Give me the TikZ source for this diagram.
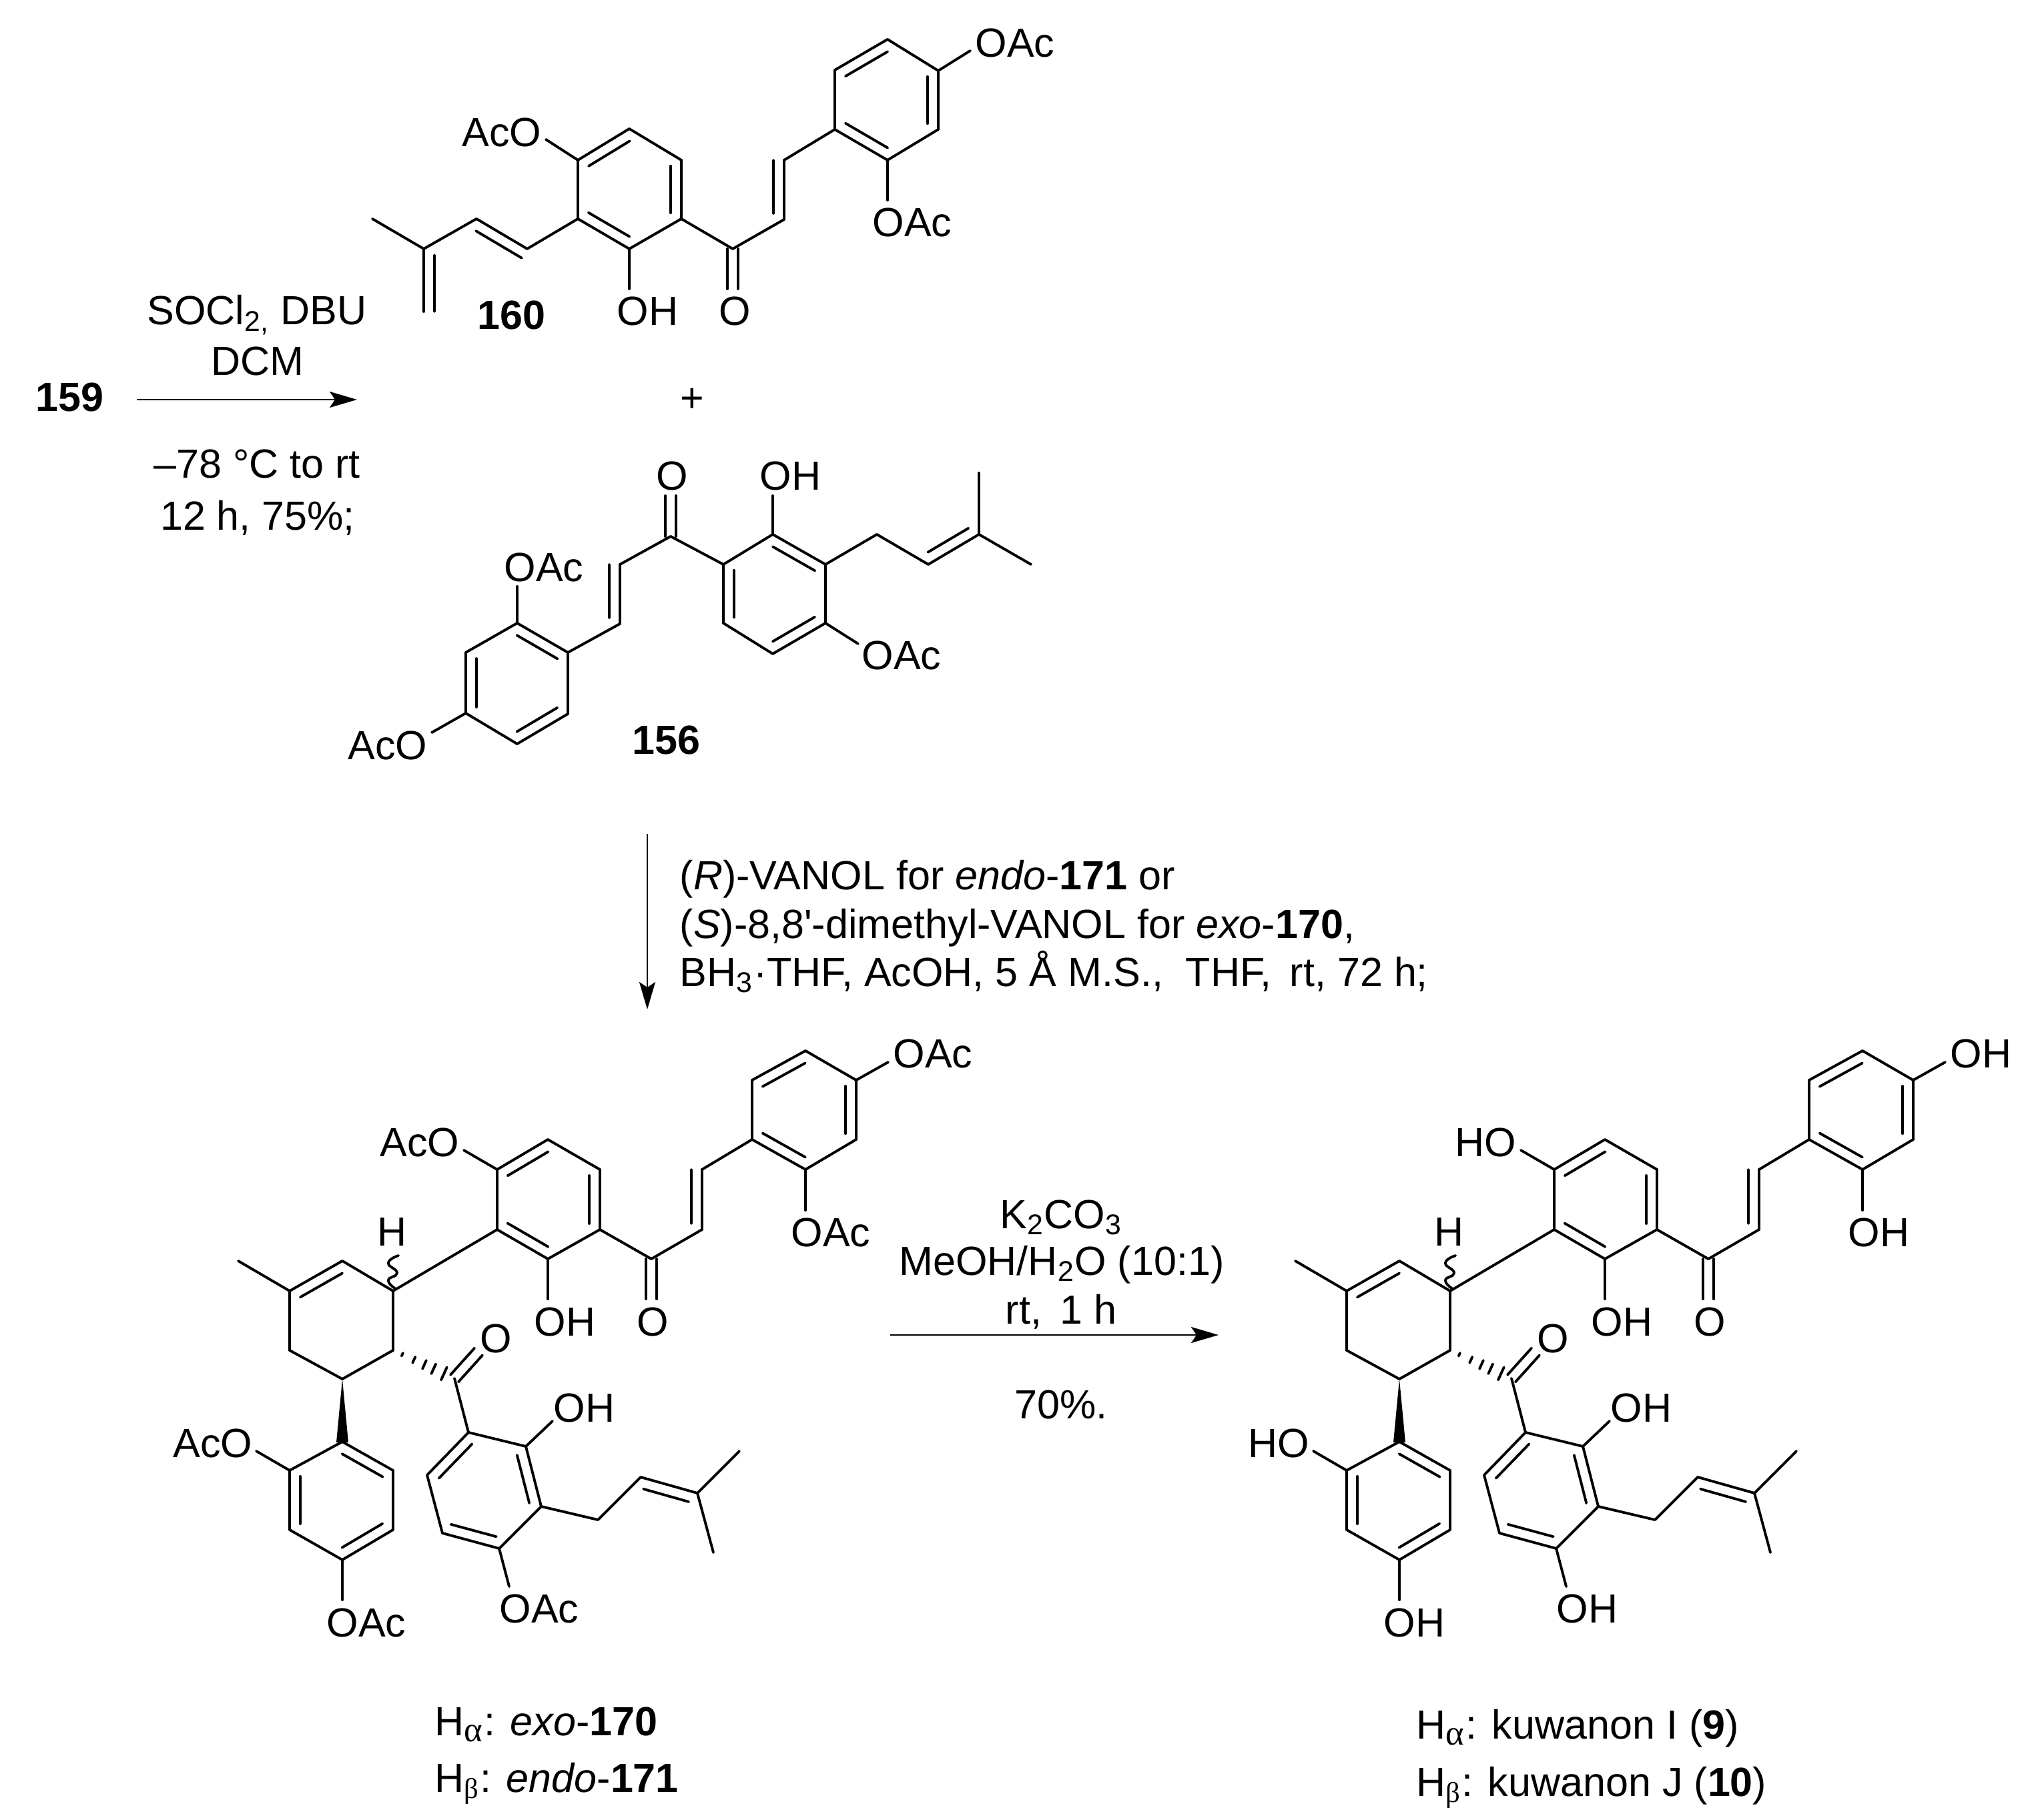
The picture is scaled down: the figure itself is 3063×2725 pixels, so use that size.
\documentclass[tikz,border=0pt]{standalone}
\usepackage{fontspec}
\setmainfont{Liberation Sans}
\newfontfamily\greekfont{Liberation Serif}
\usetikzlibrary{calc}
\usetikzlibrary{arrows.meta}
\tikzstyle{atom}=[coordinate]
\tikzstyle{bond}=[draw,line width=1.1pt,line cap=round]
\tikzstyle{rxnarrow}=[draw,line width=.7pt,-{Stealth[length=.41cm,width=.24cm,inset=.08cm]}]
\tikzstyle{txt}=[inner sep=0pt,font=\fontsize{17.36}{21}\selectfont]
\tikzstyle{labw}=[txt,anchor=base west]
\tikzstyle{labe}=[txt,anchor=base east]
\tikzstyle{labc}=[txt,anchor=base]
% second line of a double bond, on the left going from #1 to #2
\newcommand{\innerbond}[4]{\draw[bond] ($(#1)!#3!(#2)!.16cm!90:(#2)$) -- ($(#2)!#4!(#1)!.16cm!-90:(#1)$);}
% carbonyl: two lines either side of #1 -- #2
\newcommand{\symbond}[2]{\draw[bond] ($(#1)!.08cm!90:(#2)$) -- ($(#2)!.08cm!-90:(#1)$);
    \draw[bond] ($(#1)!.08cm!-90:(#2)$) -- ($(#2)!.08cm!90:(#1)$);}
\newcommand{\alpharm}{\textsubscript{\fontsize{15}{15}\selectfont\greekfont α}}
\newcommand{\betarm}{\textsubscript{\greekfont β}}
\begin{document}
\begin{tikzpicture}[x=.01cm,y=-.01cm]
\useasboundingbox (0,0) rectangle (3063,2725);

    % First reaction: 159 to 160
    \node[labw,font=\fontsize{17.36}{21}\selectfont\bfseries] (n159) at (53,617) {159};
    \coordinate (a1s) at (205,599);
    \coordinate (a1e) at (535,599);
    \draw[rxnarrow] (a1s) -- (a1e);
    \node[labc] (r1) at (385,487) {SOCl\textsubscript{2,} DBU};
    \node[labc] (r2) at (386,563) {DCM};
    \node[labc] (r3) at (385,717) {–78 °C to rt};
    \node[labc] (r4) at (386,795) {12 h, 75\%;};

    % Draw compound 160
    \foreach \pos/\name in {{(943,193)/ta1}, {(1021,240)/ta2}, {(1021,328)/ta3}, {(943,373)/ta4}, {(866,328)/ta5}, {(866,240)/ta6},
        {(1330,59)/tb1}, {(1406,106)/tb2}, {(1406,194)/tb3}, {(1330,240)/tb4}, {(1251,194)/tb5}, {(1251,105)/tb6},
        {(1175,240)/te1}, {(1175,329)/te2}, {(1098,373)/te3}, {(1098,433)/teo},
        {(790,373)/tp1}, {(714,328)/tp2}, {(635,373)/tp3}, {(558,328)/tp4}, {(635,467)/tp5},
        {(1454,76)/toa1}, {(1330,300)/toa2}, {(943,433)/toh}, {(818,209)/toa3}}
        \node[atom] (\name) at \pos {};
    \foreach \src/\dst in {ta1/ta2, ta2/ta3, ta3/ta4, ta4/ta5, ta5/ta6, ta6/ta1, tb1/tb2, tb2/tb3, tb3/tb4, tb4/tb5, tb5/tb6, tb6/tb1,
        tb5/te1, te1/te2, te2/te3, te3/ta3, ta5/tp1, tp1/tp2, tp2/tp3, tp3/tp4, tp3/tp5, ta4/toh, ta6/toa3, tb2/toa1, tb4/toa2}
        \path[bond] (\src) -- (\dst);
    \foreach \src/\dst in {ta1/ta6, ta3/ta2, ta5/ta4, tb1/tb6, tb3/tb2, tb5/tb4}
        {\innerbond{\src}{\dst}{.1}{.1}}
    \innerbond{te2}{te1}{.1}{0}
    \innerbond{tp1}{tp2}{0}{.1}
    \innerbond{tp3}{tp5}{.1}{0}
    \symbond{te3}{teo}
    \node[labw] (tl1) at (1461,86) {OAc};
    \node[labe] (tl2) at (812,220) {AcO};
    \node[labw] (tl3) at (1307,355) {OAc};
    \node[labw] (tl4) at (924,488) {OH};
    \node[labw] (tl5) at (1077,488) {O};
    \node[labw,font=\fontsize{17.36}{21}\selectfont\bfseries] (n160) at (715,494) {160};

    \node[labc] (plus) at (1037,618) {+};

    % Draw compound 156
    \foreach \pos/\name in {{(1158,801)/ua1}, {(1237,846)/ua2}, {(1237,934)/ua3}, {(1158,980)/ua4}, {(1084,934)/ua5}, {(1084,846)/ua6},
        {(775,934)/ub1}, {(851,978)/ub2}, {(851,1070)/ub3}, {(775,1115)/ub4}, {(698,1069)/ub5}, {(698,978)/ub6},
        {(929,935)/ue1}, {(929,846)/ue2}, {(1005,804)/ue3}, {(1005,743)/ueo},
        {(1314,801)/up1}, {(1391,846)/up2}, {(1467,801)/up3}, {(1467,709)/up4}, {(1545,846)/up5},
        {(775,879)/uoa1}, {(647,1098)/uoa2}, {(1286,965)/uoa3}, {(1158,743)/uoh}}
        \node[atom] (\name) at \pos {};
    \foreach \src/\dst in {ua1/ua2, ua2/ua3, ua3/ua4, ua4/ua5, ua5/ua6, ua6/ua1, ub1/ub2, ub2/ub3, ub3/ub4, ub4/ub5, ub5/ub6, ub6/ub1,
        ub2/ue1, ue1/ue2, ue2/ue3, ue3/ua6, ua2/up1, up1/up2, up2/up3, up3/up4, up3/up5, ua1/uoh, ua3/uoa3, ub1/uoa1, ub5/uoa2}
        \path[bond] (\src) -- (\dst);
    \foreach \src/\dst in {ua2/ua1, ua6/ua5, ua4/ua3, ub2/ub1, ub6/ub5, ub4/ub3, up2/up3}
        {\innerbond{\src}{\dst}{.1}{.1}}
    \innerbond{ue1}{ue2}{.1}{0}
    \symbond{ue3}{ueo}
    \node[labw] (ul1) at (983,735) {O};
    \node[labw] (ul2) at (1138,735) {OH};
    \node[labw] (ul3) at (755,872) {OAc};
    \node[labe] (ul4) at (641,1139) {AcO};
    \node[labw] (ul5) at (1291,1004) {OAc};
    \node[labw,font=\fontsize{17.36}{21}\selectfont\bfseries] (n156) at (947,1131) {156};

    % Second reaction
    \coordinate (a2s) at (970,1250);
    \coordinate (a2e) at (970,1513);
    \draw[rxnarrow] (a2s) -- (a2e);
    \node[labw] (v1) at (1018,1333) {(\textit{R})-VANOL for \textit{endo}-\textbf{171} or};
    \node[labw] (v2) at (1018,1406) {(\textit{S})-8,8\textquotesingle-dimethyl-VANOL for \textit{exo}-\textbf{170},};
    \node[labw] (v3) at (1018,1478) {BH\textsubscript{3}·THF, AcOH, 5 Å M.S., \ THF, \,rt, 72 h;};

    % Draw the two products, same skeleton
    \foreach \dx/\pre/\rlab/\llab in {0/p/OAc/AcO, 1584/q/OH/HO} {
    \foreach \pos/\name in {{(1207+\dx,1575)/b1}, {(1283+\dx,1619)/b2}, {(1283+\dx,1708)/b3}, {(1207+\dx,1753)/b4}, {(1127+\dx,1708)/b5}, {(1127+\dx,1619)/b6},
        {(1052+\dx,1753)/e1}, {(1052+\dx,1843)/e2}, {(976+\dx,1887)/e3}, {(976+\dx,1947)/eo},
        {(821+\dx,1708)/a1}, {(899+\dx,1753)/a2}, {(899+\dx,1843)/a3}, {(821+\dx,1887)/a4}, {(745+\dx,1843)/a5}, {(745+\dx,1753)/a6},
        {(589+\dx,1935)/c1}, {(513+\dx,1890)/c2}, {(434+\dx,1935)/c3}, {(434+\dx,2024)/c4}, {(513+\dx,2067)/c5}, {(589+\dx,2024)/c6}, {(357+\dx,1890)/me},
        {(681+\dx,2066)/k1}, {(717+\dx,2026)/ko},
        {(702+\dx,2147)/f1}, {(788+\dx,2168)/f2}, {(811+\dx,2258)/f3}, {(748+\dx,2321)/f4}, {(663+\dx,2298)/f5}, {(640+\dx,2211)/f6},
        {(896+\dx,2278)/g1}, {(960+\dx,2214)/g2}, {(1045+\dx,2238)/g3}, {(1108+\dx,2175)/g4}, {(1069+\dx,2327)/g5},
        {(513+\dx,2161)/d1}, {(589+\dx,2204)/d2}, {(589+\dx,2293)/d3}, {(513+\dx,2338)/d4}, {(434+\dx,2293)/d5}, {(434+\dx,2204)/d6},
        {(1331+\dx,1592)/o1}, {(1207+\dx,1814)/o2}, {(821+\dx,1947)/o3}, {(695+\dx,1724)/o4}, {(828+\dx,2130)/o5}, {(763+\dx,2378)/o6}, {(384+\dx,2175)/o7}, {(513+\dx,2398)/o8}}
        \node[atom] (\pre\name) at \pos {};
    \foreach \src/\dst in {b1/b2, b2/b3, b3/b4, b4/b5, b5/b6, b6/b1, b5/e1, e1/e2, e2/e3, e3/a3,
        a1/a2, a2/a3, a3/a4, a4/a5, a5/a6, a6/a1, a5/c1, c1/c2, c2/c3, c3/c4, c4/c5, c5/c6, c6/c1, c3/me,
        k1/f1, f1/f2, f2/f3, f3/f4, f4/f5, f5/f6, f6/f1, f3/g1, g1/g2, g2/g3, g3/g4, g3/g5,
        d1/d2, d2/d3, d3/d4, d4/d5, d5/d6, d6/d1, b2/o1, b4/o2, a4/o3, a6/o4, f2/o5, f4/o6, d6/o7, d4/o8}
        \path[bond] (\pre\src) -- (\pre\dst);
    \foreach \src/\dst in {b1/b6, b3/b2, b5/b4, a1/a6, a3/a2, a5/a4, c2/c3, f1/f6, f3/f2, f5/f4, g3/g2, d2/d1, d4/d3, d6/d5}
        {\innerbond{\pre\src}{\pre\dst}{.1}{.1}}
    \innerbond{\pre e2}{\pre e1}{.1}{0}
    \symbond{\pre e3}{\pre eo}
    \symbond{\pre k1}{\pre ko}
    % wedge, hashes and wavy bond on the cyclohexene
    \fill (\pre c5) -- ($(\pre d1)+(-9,1)$) -- ($(\pre d1)+(9,1)$) -- cycle;
    \foreach \frc/\hw in {.15/.025, .34/.05, .51/.07, .66/.08, .83/.105}
        \path[bond] ($(\pre c6)!\frc!(\pre k1)!\hw cm!90:(\pre k1)$) -- ($(\pre c6)!\frc!(\pre k1)!\hw cm!-90:(\pre k1)$);
    \draw[bond] plot[smooth,tension=.9] coordinates {(593+\dx,1932) (582+\dx,1919) (595+\dx,1908) (582+\dx,1893) (597+\dx,1882)};
    % labels
    \node[labw] (\pre l1) at (1338+\dx,1600) {\rlab};
    \node[labe] (\pre l2) at (689+\dx,1733) {\llab};
    \node[labw] (\pre l3) at (1185+\dx,1868) {\rlab};
    \node[labc] (\pre l4) at (588+\dx,1867) {H};
    \node[labw] (\pre l5) at (800+\dx,2002) {OH};
    \node[labw] (\pre l6) at (954+\dx,2002) {O};
    \node[labw] (\pre l7) at (719+\dx,2027) {O};
    \node[labw] (\pre l8) at (829+\dx,2131) {OH};
    \node[labe] (\pre l9) at (379+\dx,2184) {\llab};
    \node[labw] (\pre l10) at (489+\dx,2453) {\rlab};
    \node[labw] (\pre l11) at (748+\dx,2432) {\rlab};
    }

    % Third reaction
    \coordinate (a3s) at (1334,2001);
    \coordinate (a3e) at (1826,2001);
    \draw[rxnarrow] (a3s) -- (a3e);
    \node[labc] (k1) at (1590,1841) {K\textsubscript{2}CO\textsubscript{3}};
    \node[labc] (k2) at (1591,1911) {MeOH/H\textsubscript{2}O (10:1)};
    \node[labc] (k3) at (1590,1984) {rt, \,1 h};
    \node[labc] (k4) at (1590,2126) {70\%.};

    % Names under the products
    \node[labw] (m1) at (651,2601) {H\alpharm: \textit{exo}-\textbf{170}};
    \node[labw] (m2) at (651,2686) {H\betarm: \textit{endo}-\textbf{171}};
    \node[labw] (m3) at (2122,2606) {H\alpharm: kuwanon I (\textbf{9})};
    \node[labw] (m4) at (2122,2692) {H\betarm: kuwanon J (\textbf{10})};
\end{tikzpicture}
\end{document}
